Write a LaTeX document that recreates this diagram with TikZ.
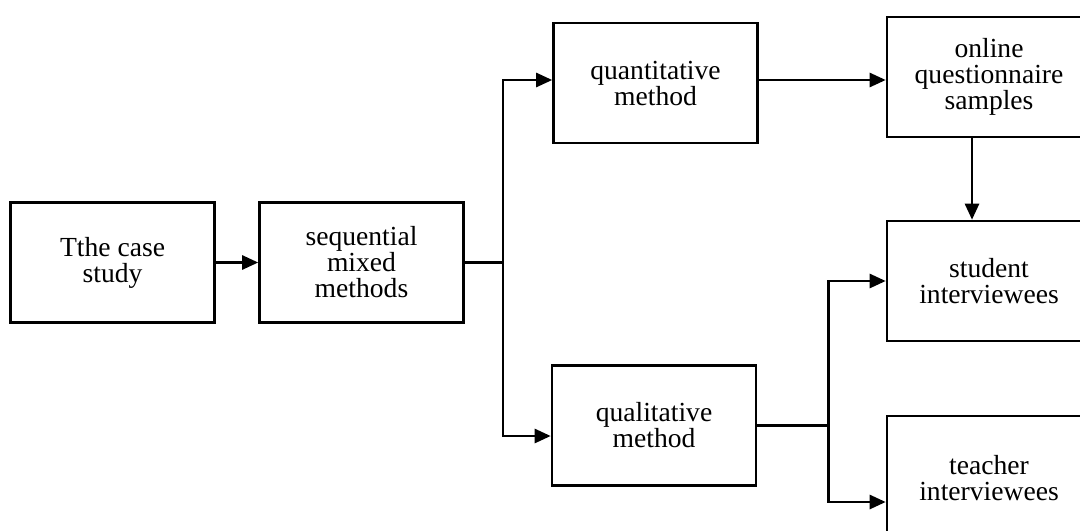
\documentclass[tikz,border=0pt]{standalone}
\usepackage{fontspec}
\setmainfont{Liberation Serif}
\usepackage{tikz}
\usetikzlibrary{positioning,calc,arrows.meta}

\begin{document}
\begin{tikzpicture}[x=0.5pt, y=-0.5pt,
  box/.style={draw, line width=1.3pt, minimum width=102pt, minimum height=60pt,
    inner sep=0pt, align=center, font=\fontsize{13.8}{13}\selectfont},
  link/.style={line width=1.3pt},
  arr/.style={link, -{Triangle[length=8pt,width=7pt]}}]
  \useasboundingbox (0,0) rectangle (1080,530);

  % Study design
  \node[box] (case) at (112.5,262.5) {Tthe case\\study};
  \node[box] (mixed) at (361.5,262.5) {sequential\\mixed\\methods};

  % The two strands
  \node[box] (quant) at (655.5,83) {quantitative\\method};
  \node[box] (qual) at (654,425.5) {qualitative\\method};

  % Participants
  \node[box] (online) at (989,77) {online\\questionnaire\\samples};
  \node[box] (student) at (989,281) {student\\interviewees};
  \node[box, minimum height=62pt] (teacher) at (989,478) {teacher\\interviewees};

  % Branch points
  \coordinate[right=19pt of mixed.east] (msplit);
  \coordinate[right=35.5pt of qual.east] (qsplit);

  % Connectors
  \draw[arr] (case) -- (mixed);
  \draw[link] (mixed.east) -- (msplit);
  \draw[arr] (msplit) |- ([yshift=1.5pt]quant.west);
  \draw[arr] (msplit) |- ([yshift=-5.25pt]qual.west);
  \draw[arr] ([yshift=1.5pt]quant.east) -- ([yshift=-1.5pt]online.west);
  \draw[arr] ([xshift=-8.5pt]online.south) -- ([xshift=-8.5pt]student.north);
  \draw[link] (qual.east) -- (qsplit);
  \draw[arr] (qsplit) |- (student.west);
  \draw[arr] (qsplit) |- ([yshift=-12pt]teacher.west);
\end{tikzpicture}
\end{document}
